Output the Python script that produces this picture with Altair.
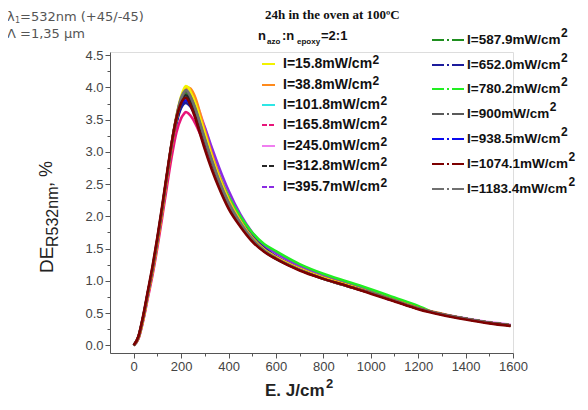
import altair as alt
import pandas as pd

# ---------------- data ----------------
E = [0, 20, 40, 60, 80, 100, 120, 140, 160, 180, 200, 210, 220, 230, 240, 260, 280, 300,
     330, 360, 400, 450, 500, 550, 600, 700, 800, 900, 1000, 1100, 1200, 1300, 1400, 1500, 1590]
E_PURPLE = E[:29] + [1075]
E_GREEN = E[:31] + [1250]

labels = ["I=15.8mW/cm", "I=38.8mW/cm", "I=101.8mW/cm", "I=165.8mW/cm", "I=245.0mW/cm",
          "I=312.8mW/cm", "I=395.7mW/cm", "I=587.9mW/cm", "I=652.0mW/cm", "I=780.2mW/cm",
          "I=900mW/cm", "I=938.5mW/cm", "I=1074.1mW/cm", "I=1183.4mW/cm"]
colors = ["#f2f200", "#ff8a1c", "#2ee6e6", "#e8157a", "#f07ef0", "#262626", "#8a2be2",
          "#1f8f1f", "#1c1c9c", "#22ee22", "#5a5a5a", "#0a0aee", "#7d0000", "#707070"]
dashes = ["solid", "solid", "solid", "dash", "solid", "dash", "dash",
          "dashdot", "dashdot", "dashdot", "dashdot", "dashdot", "dashdot", "dashdot"]

v_15_8 = [0.00, 0.12, 0.42, 0.80, 1.18, 1.62, 2.10, 2.62, 3.12, 3.55, 3.86, 3.96, 4.02, 4.00, 3.93, 3.75, 3.52, 3.28,
          2.92, 2.60, 2.25, 1.92, 1.66, 1.48, 1.36, 1.18, 1.04, 0.93, 0.81, 0.69, 0.57, 0.48, 0.41, 0.35, 0.31]
v_38_8 = [0.00, 0.11, 0.40, 0.78, 1.15, 1.58, 2.06, 2.58, 3.08, 3.50, 3.80, 3.90, 3.97, 4.00, 3.98, 3.84, 3.60, 3.33,
          2.96, 2.63, 2.27, 1.93, 1.67, 1.49, 1.37, 1.19, 1.05, 0.94, 0.82, 0.70, 0.58, 0.49, 0.41, 0.35, 0.31]
v_101_8 = [0.00, 0.12, 0.42, 0.80, 1.18, 1.62, 2.10, 2.60, 3.08, 3.48, 3.74, 3.82, 3.86, 3.84, 3.78, 3.63, 3.43, 3.21,
           2.88, 2.58, 2.24, 1.92, 1.67, 1.49, 1.37, 1.19, 1.05, 0.94, 0.82, 0.70, 0.58, 0.48, 0.41, 0.35, 0.31]
v_165_8 = [0.00, 0.10, 0.38, 0.74, 1.10, 1.52, 1.98, 2.46, 2.92, 3.30, 3.52, 3.58, 3.62, 3.60, 3.56, 3.44, 3.28, 3.10,
           2.82, 2.54, 2.21, 1.90, 1.65, 1.47, 1.35, 1.18, 1.04, 0.93, 0.81, 0.69, 0.57, 0.48, 0.41, 0.35, 0.31]
v_245_0 = [0.00, 0.12, 0.42, 0.80, 1.18, 1.62, 2.10, 2.62, 3.12, 3.54, 3.84, 3.94, 3.98, 3.98, 3.94, 3.80, 3.60, 3.38,
           3.02, 2.70, 2.34, 1.98, 1.70, 1.51, 1.38, 1.20, 1.06, 0.95, 0.83, 0.71, 0.58, 0.49, 0.42, 0.36, 0.32]
v_312_8 = [0.00, 0.13, 0.44, 0.82, 1.20, 1.64, 2.12, 2.63, 3.12, 3.52, 3.78, 3.85, 3.88, 3.85, 3.79, 3.62, 3.40, 3.17,
           2.84, 2.53, 2.19, 1.88, 1.63, 1.46, 1.34, 1.17, 1.03, 0.92, 0.81, 0.69, 0.57, 0.48, 0.41, 0.35, 0.31]
v_395_7 = [0.00, 0.11, 0.40, 0.78, 1.16, 1.60, 2.08, 2.58, 3.06, 3.46, 3.74, 3.82, 3.86, 3.86, 3.82, 3.72, 3.56, 3.38,
           3.06, 2.76, 2.40, 2.03, 1.75, 1.55, 1.43, 1.23, 1.09, 0.97, 0.84, 0.71]
v_587_9 = [0.00, 0.12, 0.43, 0.81, 1.19, 1.63, 2.11, 2.62, 3.11, 3.52, 3.80, 3.88, 3.92, 3.90, 3.84, 3.66, 3.44, 3.20,
           2.86, 2.55, 2.21, 1.90, 1.65, 1.48, 1.36, 1.18, 1.04, 0.93, 0.82, 0.70, 0.58, 0.48, 0.41, 0.35, 0.31]
v_652_0 = [0.00, 0.12, 0.42, 0.80, 1.18, 1.62, 2.09, 2.59, 3.06, 3.44, 3.68, 3.74, 3.76, 3.74, 3.70, 3.56, 3.38, 3.18,
           2.87, 2.57, 2.24, 1.94, 1.69, 1.51, 1.38, 1.19, 1.05, 0.94, 0.82, 0.70, 0.58, 0.48, 0.41, 0.35, 0.31]
v_780_2 = [0.00, 0.12, 0.42, 0.80, 1.18, 1.62, 2.10, 2.61, 3.10, 3.50, 3.78, 3.86, 3.90, 3.89, 3.84, 3.68, 3.48, 3.26,
           2.94, 2.64, 2.31, 2.00, 1.75, 1.57, 1.46, 1.26, 1.11, 0.99, 0.87, 0.74, 0.61, 0.53]
v_900 = [0.00, 0.13, 0.44, 0.82, 1.20, 1.64, 2.12, 2.63, 3.12, 3.53, 3.82, 3.90, 3.94, 3.91, 3.85, 3.66, 3.43, 3.19,
         2.85, 2.54, 2.20, 1.89, 1.64, 1.47, 1.35, 1.17, 1.03, 0.92, 0.81, 0.69, 0.57, 0.48, 0.41, 0.35, 0.31]
v_938_5 = [0.00, 0.12, 0.43, 0.81, 1.19, 1.63, 2.10, 2.60, 3.08, 3.46, 3.72, 3.78, 3.80, 3.78, 3.73, 3.58, 3.39, 3.18,
           2.86, 2.56, 2.23, 1.92, 1.67, 1.49, 1.37, 1.18, 1.04, 0.93, 0.81, 0.69, 0.57, 0.48, 0.41, 0.35, 0.31]
v_1074_1 = [0.00, 0.14, 0.46, 0.85, 1.24, 1.68, 2.16, 2.66, 3.14, 3.52, 3.76, 3.82, 3.84, 3.80, 3.72, 3.52, 3.28, 3.04,
            2.72, 2.44, 2.12, 1.84, 1.61, 1.45, 1.34, 1.16, 1.03, 0.92, 0.80, 0.68, 0.56, 0.47, 0.40, 0.34, 0.30]
v_1183_4 = [0.00, 0.13, 0.45, 0.83, 1.22, 1.66, 2.14, 2.64, 3.13, 3.54, 3.84, 3.92, 3.96, 3.93, 3.86, 3.68, 3.45, 3.21,
            2.87, 2.56, 2.22, 1.90, 1.65, 1.47, 1.35, 1.17, 1.03, 0.92, 0.81, 0.69, 0.57, 0.48, 0.41, 0.35, 0.31]

series_vals = [v_15_8, v_38_8, v_101_8, v_165_8, v_245_0, v_312_8, v_395_7,
               v_587_9, v_652_0, v_780_2, v_900, v_938_5, v_1074_1, v_1183_4]
series_E = [E, E, E, E, E, E, E_PURPLE, E, E, E_GREEN, E, E, E, E]
# drawing order, bottom -> top
draw_order = [4, 6, 2, 11, 8, 9, 7, 3, 1, 0, 5, 10, 13, 12]

x_major = [0, 200, 400, 600, 800, 1000, 1200, 1400, 1600]
x_minor = [100, 300, 500, 700, 900, 1100, 1300, 1500]
y_major = [0.0, 0.5, 1.0, 1.5, 2.0, 2.5, 3.0, 3.5, 4.0, 4.5]
y_minor = [0.25, 0.75, 1.25, 1.75, 2.25, 2.75, 3.25, 3.75, 4.25]

# ---------------- build tables ----------------
rows = []
for rank, i in enumerate(draw_order):
    for e, v in zip(series_E[i], series_vals[i]):
        rows.append({"key": f"{rank:02d}", "E": e, "DE": v})
df = pd.DataFrame(rows)
key_domain = [f"{r:02d}" for r in range(len(draw_order))]
key_colors = [colors[i] for i in draw_order]

PX0, PY0 = 110, 52  # plot origin on the page
W, H = 403, 301

xscale = alt.Scale(domain=[-100, 1600], nice=False, zero=False)
yscale = alt.Scale(domain=[-0.12, 4.55], nice=False, zero=False)
FONT = "Liberation Sans"
AXC = "#555555"

lines = alt.Chart(df).mark_line(strokeWidth=2.6, interpolate="monotone").encode(
    x=alt.X("E:Q", scale=xscale, axis=alt.Axis(values=x_major, format="d", title=None, grid=False, tickSize=5,
                                               labelFont=FONT, labelFontSize=13, labelColor="#444444",
                                               domainColor=AXC, tickColor=AXC, labelPadding=2,
                                               labelFlush=False)),
    y=alt.Y("DE:Q", scale=yscale, axis=alt.Axis(values=y_major, format=".1f", title=None, grid=False,
                                                tickSize=5, labelFont=FONT, labelFontSize=13,
                                                labelColor="#444444", domainColor=AXC, tickColor=AXC,
                                                labelPadding=2, labelFlush=False)),
    color=alt.Color("key:N", scale=alt.Scale(domain=key_domain, range=key_colors), legend=None),
)

minor = alt.Chart(df).mark_line(opacity=0).encode(
    x=alt.X("E:Q", scale=xscale, axis=alt.Axis(values=x_minor, labels=False, domain=False, grid=False,
                                               tickSize=3, tickColor=AXC, orient="bottom", title=None)),
    y=alt.Y("DE:Q", scale=yscale, axis=alt.Axis(values=y_minor, labels=False, domain=False, grid=False,
                                                tickSize=3, tickColor=AXC, orient="left", title=None)),
    detail="key:N",
)

# ---------------- legend replica ----------------
ARIAL_BOLD = {"I": 0.278, "=": 0.584, ".": 0.278, "m": 0.889, "W": 0.944, "/": 0.278, "c": 0.556}


def bold_width(s, size):
    return sum(ARIAL_BOLD.get(ch, 0.556) for ch in s) * size


left_y = [64, 85, 105, 125, 146, 166, 187]
right_y = [40, 65, 89, 114, 139, 164, 189]
LFS, RFS = 14, 13.5
leg = []
for k in range(14):
    if k < 7:
        x0, x1, xt, yy, fs, sup_dy = 262, 275, 283, left_y[k], LFS, -4
    else:
        x0, x1, xt, yy, fs, sup_dy = 432, 465, 467, right_y[k - 7], RFS, -7
    leg.append({"x0": x0 - PX0, "x1": x1 - PX0, "xt": xt - PX0, "y": yy - PY0, "fs": fs,
                "xs": xt + bold_width(labels[k], fs) + 0.5 - PX0, "ys": yy + sup_dy - PY0,
                "label": labels[k], "col": colors[k], "dash": dashes[k]})
leg_df = pd.DataFrame(leg)

leg_lines = alt.Chart(leg_df).mark_rule(strokeWidth=2).encode(
    x=alt.X("x0:Q", scale=None, axis=None), x2="x1:Q",
    y=alt.Y("y:Q", scale=None, axis=None),
    color=alt.Color("col:N", scale=None),
    strokeDash=alt.StrokeDash("dash:N", scale=alt.Scale(domain=["solid", "dash", "dashdot"],
                                                        range=[[1, 0], [5, 2], [12, 3, 2, 3]]), legend=None),
)
leg_text = alt.Chart(leg_df).mark_text(align="left", baseline="middle", font=FONT, fontWeight="bold",
                                       color="#111111").encode(
    x=alt.X("xt:Q", scale=None, axis=None), y=alt.Y("y:Q", scale=None, axis=None), text="label:N",
    size=alt.Size("fs:Q", scale=None, legend=None))
leg_sup = alt.Chart(leg_df).mark_text(align="left", baseline="middle", font=FONT, fontWeight="bold",
                                      fontSize=12, color="#111111", text="2").encode(
    x=alt.X("xs:Q", scale=None, axis=None), y=alt.Y("ys:Q", scale=None, axis=None))

# ---------------- free texts ----------------
texts = [
    # x, y, text, size, weight, font, color, angle
    (265, 15, "24h in the oven at 100ºC", 13, "bold", "Liberation Serif", "#111111", 0),
    (258, 36, "n", 13, "bold", FONT, "#111111", 0),
    (267, 42, "azo", 8, "bold", FONT, "#111111", 0),
    (282, 36, ":n", 13, "bold", FONT, "#111111", 0),
    (297, 42, "epoxy", 8, "bold", FONT, "#111111", 0),
    (321, 36, "=2:1", 13, "bold", FONT, "#111111", 0),
    (7, 17, "λ", 13, "normal", "DejaVu Sans", "#555555", 0),
    (15, 21, "1", 8, "normal", "DejaVu Sans", "#555555", 0),
    (20, 17, "=532nm (+45/-45)", 13, "normal", "DejaVu Sans", "#555555", 0),
    (7, 34, "Λ =1,35 μm", 13, "normal", "DejaVu Sans", "#555555", 0),
    (265, 391, "E. J/cm", 17, "bold", FONT, "#222222", 0),
    (326, 384, "2", 13, "bold", FONT, "#222222", 0),
    (47, 273, "DE", 19, "normal", FONT, "#222222", 270),
    (53, 247, "R532nm", 16, "normal", FONT, "#222222", 270),
    (47, 187, ", %", 18, "normal", FONT, "#222222", 270),
]
free_layers = []
for (tx, ty, tt, ts, tw, tf, tc, ta) in texts:
    d = pd.DataFrame({"x": [tx - PX0], "y": [ty - PY0], "t": [tt]})
    free_layers.append(
        alt.Chart(d).mark_text(align="left", baseline="middle", fontSize=ts, fontWeight=tw, font=tf,
                               color=tc, angle=ta).encode(
            x=alt.X("x:Q", scale=None, axis=None), y=alt.Y("y:Q", scale=None, axis=None), text="t:N")
    )

chart = alt.layer(lines, minor, leg_lines, leg_text, leg_sup, *free_layers).resolve_axis(
    x="independent", y="independent"
).properties(
    width=W, height=H,
    autosize=alt.AutoSizeParams(type="none"),
    padding={"left": PX0 - 8, "top": PY0 - 8, "right": 66, "bottom": 48},
).configure_view(stroke=None).configure(background="white")

chart.save("out.html", embed_options={"renderer": "svg", "actions": False})
